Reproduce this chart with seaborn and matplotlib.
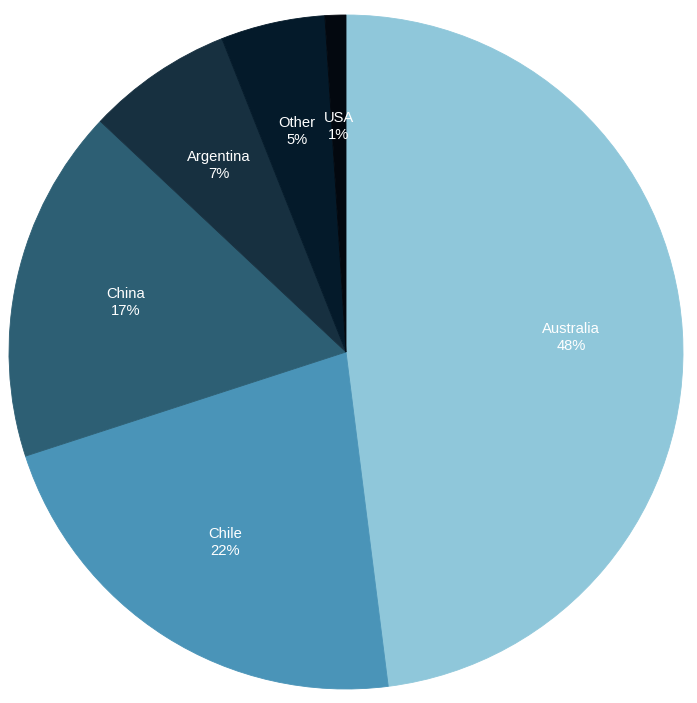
import matplotlib
matplotlib.use("Agg")
import matplotlib.pyplot as plt
import seaborn as sns

countries = ["Australia", "Chile", "China", "Argentina", "Other", "USA"]
shares = [48, 22, 17, 7, 5, 1]
colors = ["#8fc7da", "#4a94b8", "#2d5f74", "#173040", "#041a2a", "#03080f"]

sns.set_theme(style="white")
plt.rcParams['font.family'] = ['Liberation Sans', 'DejaVu Sans']

fig = plt.figure(figsize=(6.97, 7.03), dpi=100)
ax = fig.add_axes([9 / 697, 14 / 703, 674 / 697, 674 / 703])

names = iter(countries)
wedges, texts, autotexts = ax.pie(
    shares, colors=colors, startangle=90, counterclock=False,
    autopct=lambda p: f"{next(names)}\n{p:.0f}%", pctdistance=0.67,
    wedgeprops=dict(linewidth=0.6),
    textprops=dict(color="white", fontsize=10.6),
)
for w, c in zip(wedges, colors):
    w.set_edgecolor(c)
for t in autotexts:
    t.set_linespacing(1.25)
ax.set_xlim(-1, 1)
ax.set_ylim(-1, 1)
ax.set_aspect("equal")
ax.axis("off")

fig.savefig("out.png", dpi=100)
